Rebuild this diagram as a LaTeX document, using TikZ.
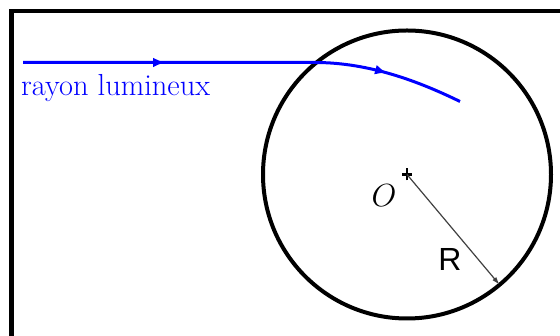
\RequirePackage{fix-cm}
\documentclass[tikz,border=0pt]{standalone}
\usepackage{fontspec}
\newfontfamily\labelsans{Liberation Sans}
\usetikzlibrary{arrows.meta, decorations.markings}
\tikzset{
  framebox/.style={draw, line width=4.5pt},
  lensball/.style={draw, line width=4pt},
  rayline/.style={blue, line width=3pt, postaction={decorate},
      decoration={markings,
        mark=at position 142pt with {\arrow{Latex[length=12pt,width=10pt]}},
        mark=at position 365pt with {\arrow{Latex[length=12pt,width=10pt]}}}},
  radiusarrow/.style={-{Latex[length=8pt,width=5pt]}, line width=1.2pt, black!75},
  raylbl/.style={font=\fontsize{30.4}{36}\selectfont, text=blue, inner sep=0pt},
}

\begin{document}
\begin{tikzpicture}[x=1pt, y=1pt]
      \useasboundingbox (0,0) rectangle (560,336);
      \clip (0,0) rectangle (560,336);

      % === frame ===
      \draw[framebox] (11.5,-20) -- (11.5,325) -- (600,325);

      % === sphere ===
      \coordinate (O) at (407,161.5);
      \coordinate (rim) at ([shift={(-50:144)}]O);
      \draw[lensball] (O) circle[radius=144];
      \draw[line width=2.5pt] (O) +(-5,0) -- +(5,0) (O) +(0,-6) -- +(0,6);
      \node[font=\fontsize{32}{38}\selectfont] (Olbl) at (384,140) {$O$};

      % radius
      \draw[radiusarrow] (O) -- (rim);
      \node[font=\labelsans\fontsize{32}{38}\selectfont] (Rlbl) at (450,77) {R};

      % === light ray ===
      \coordinate (raystart) at (23,273.5);
      \coordinate (raybend) at (315,273.5);
      \coordinate (rayend) at (460,234.5);
      \draw[rayline] (raystart) -- (raybend) .. controls (370,273.5) and (420,254) .. (rayend);
      \node[raylbl, anchor=base west] (raytext) at (21,240) {rayon lumineux};
    \end{tikzpicture}
\end{document}
